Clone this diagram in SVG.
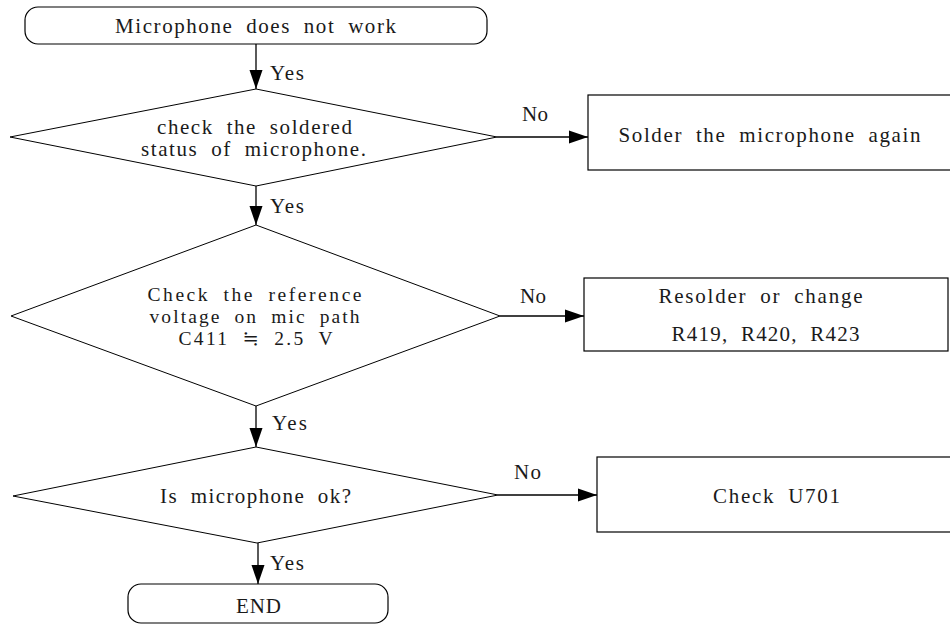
<svg xmlns="http://www.w3.org/2000/svg" width="950" height="624" viewBox="0 0 950 624">
<style>
.shape{fill:#fff;stroke:#000;stroke-width:1.2}
.dia{fill:#fff;stroke:#000;stroke-width:1}
.conn{fill:none;stroke:#000;stroke-width:1.3}
text{font-family:"Liberation Serif","DejaVu Serif",serif;font-size:21px;fill:#1a1a1a;letter-spacing:1px;word-spacing:6px}
.c{text-anchor:middle}
.s{font-size:19.5px}
</style>
<defs>
<marker id="ah" markerUnits="userSpaceOnUse" markerWidth="20" markerHeight="14" viewBox="0 0 20 14" refX="19" refY="7" orient="auto">
<path d="M0,0.5 L19,7 L0,13.5 Z" fill="#000"/>
</marker>
</defs>
<rect width="950" height="624" fill="#fff"/>
<g id="start">
<rect class="shape" x="25" y="7" width="462" height="37" rx="13" ry="13"/>
<text class="c" x="256" y="33" textLength="282" lengthAdjust="spacing">Microphone does not work</text>
</g>
<g id="d1">
<polygon class="dia" points="256,89 497,137 256,186 10,137"/>
<text class="c" x="255" y="134" textLength="196" lengthAdjust="spacing">check the soldered</text>
<text class="c" x="254" y="156" textLength="226" lengthAdjust="spacing">status of microphone.</text>
</g>
<g id="box1">
<rect class="shape" x="588" y="95" width="366" height="75"/>
<text class="c" x="770" y="142" textLength="303" lengthAdjust="spacing">Solder the microphone again</text>
</g>
<g id="d2">
<polygon class="dia" points="256,225 500,316 256,406 11,316"/>
<text class="c s" x="255" y="301" textLength="215" lengthAdjust="spacing">Check the reference</text>
<text class="c s" x="255" y="323" textLength="211" lengthAdjust="spacing">voltage on mic path</text>
<text class="c s" x="256" y="345" textLength="155" lengthAdjust="spacing">C411 ≒ 2.5 V</text>
</g>
<g id="box2">
<rect class="shape" x="584" y="278" width="364" height="73"/>
<text class="c" x="761" y="303" textLength="205" lengthAdjust="spacing">Resolder or change</text>
<text class="c" x="766" y="341" textLength="189" lengthAdjust="spacing">R419, R420, R423</text>
</g>
<g id="d3">
<polygon class="dia" points="256,447 498,495 257,543 13,496"/>
<text class="c" x="256" y="503" textLength="192" lengthAdjust="spacing">Is microphone ok?</text>
</g>
<g id="box3">
<rect class="shape" x="597" y="457" width="357" height="75"/>
<text class="c" x="777" y="503" textLength="128" lengthAdjust="spacing">Check U701</text>
</g>
<g id="end">
<rect class="shape" x="128" y="584" width="260" height="39" rx="13" ry="13"/>
<text class="c" x="259" y="613" textLength="46" lengthAdjust="spacing">END</text>
</g>
<g id="connectors">
<line class="conn" x1="256" y1="44" x2="256" y2="89" marker-end="url(#ah)"/>
<line class="conn" x1="256" y1="186" x2="256" y2="225" marker-end="url(#ah)"/>
<line class="conn" x1="256" y1="406" x2="256" y2="447" marker-end="url(#ah)"/>
<line class="conn" x1="258" y1="543" x2="258" y2="584" marker-end="url(#ah)"/>
<line class="conn" x1="497" y1="137" x2="588" y2="137" marker-end="url(#ah)"/>
<line class="conn" x1="500" y1="316" x2="584" y2="316" marker-end="url(#ah)"/>
<line class="conn" x1="498" y1="495" x2="597" y2="495" marker-end="url(#ah)"/>
<text x="270" y="80" textLength="35" lengthAdjust="spacing">Yes</text>
<text x="270" y="213" textLength="35" lengthAdjust="spacing">Yes</text>
<text x="272" y="430" textLength="36" lengthAdjust="spacing">Yes</text>
<text x="270" y="570" textLength="35" lengthAdjust="spacing">Yes</text>
<text x="522" y="121" textLength="27" lengthAdjust="spacing">No</text>
<text x="520" y="303" textLength="27" lengthAdjust="spacing">No</text>
<text x="514" y="479" textLength="28" lengthAdjust="spacing">No</text>
</g>
</svg>
